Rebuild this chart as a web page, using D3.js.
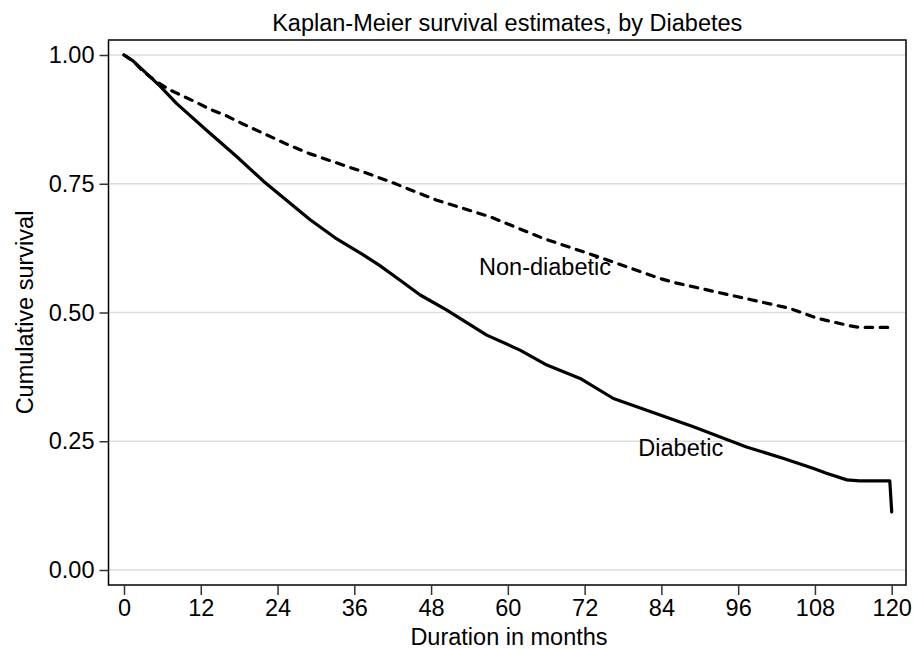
<!DOCTYPE html>
<html>
<head>
<meta charset="utf-8">
<script src="https://cdn.jsdelivr.net/npm/d3@7"></script>
<style>
  body { margin: 0; background: #fff; }
  text { font-family: "Liberation Sans", Arial, Helvetica, sans-serif; fill: #000; }
</style>
</head>
<body>
<svg id="canvas"></svg>
<script>
// values
let xTicks = [0, 12, 24, 36, 48, 60, 72, 84, 96, 108, 120]
let yTicks = [0, 0.25, 0.5, 0.75, 1]

let diabeticMonths = [0, 1.45, 3, 5.6, 8.2, 12.9, 17.6, 21.8, 25.4, 29.1, 33, 37.4, 40, 43.1, 46.3, 50.4, 56.7, 61.9, 66.1, 71.3, 76.5, 83.8, 89, 97.3, 103, 107.8, 109.8, 113, 115, 119.7, 120]
let diabeticSurv = [1.0, 0.988, 0.970, 0.940, 0.906, 0.854, 0.803, 0.755, 0.718, 0.680, 0.645, 0.612, 0.591, 0.563, 0.534, 0.505, 0.456, 0.427, 0.398, 0.372, 0.333, 0.301, 0.278, 0.239, 0.217, 0.197, 0.188, 0.175, 0.173, 0.173, 0.113]

let nonDiabeticMonths = [0, 1.45, 3, 5.1, 7.2, 10.8, 13.4, 16, 18.6, 22.3, 25.4, 29.1, 34.3, 37.4, 41.6, 48.9, 57.2, 65.5, 73.9, 83.8, 86.4, 95.8, 104.1, 108.3, 113.5, 115, 120]
let nonDiabeticSurv = [1.0, 0.988, 0.968, 0.948, 0.932, 0.911, 0.895, 0.882, 0.866, 0.845, 0.827, 0.808, 0.786, 0.773, 0.754, 0.718, 0.686, 0.644, 0.609, 0.566, 0.557, 0.531, 0.508, 0.489, 0.474, 0.471, 0.471]

let labels = [
    {text: 'Non-diabetic', month: 55.5, surv: 0.573},
    {text: 'Diabetic', month: 80.4, surv: 0.221}
]

const width = 913
const height = 649
const frame = {left: 108.5, right: 906, top: 40, bottom: 585}
const fontSize = 23.5

let svg = d3.select('#canvas')
    .attr('width', width)
    .attr('height', height)

let xScale = d3.scaleLinear().domain([0, 120]).range([124, 891.7])
let yScale = d3.scaleLinear().domain([0, 1]).range([570, 55])

// gridlines
svg.append('g')
    .selectAll('line')
    .data(yTicks)
    .enter()
    .append('line')
    .attr('x1', frame.left)
    .attr('x2', frame.right)
    .attr('y1', (d) => yScale(d))
    .attr('y2', (d) => yScale(d))
    .attr('stroke', '#dedede')
    .attr('stroke-width', 1.5)

// curves
let line = d3.line()
    .x((d) => xScale(d[0]))
    .y((d) => yScale(d[1]))

svg.append('path')
    .datum(d3.zip(diabeticMonths, diabeticSurv))
    .attr('d', line)
    .attr('fill', 'none')
    .attr('stroke', '#000')
    .attr('stroke-width', 3.2)
    .attr('stroke-linejoin', 'round')
    .attr('stroke-linecap', 'round')

svg.append('path')
    .datum(d3.zip(nonDiabeticMonths, nonDiabeticSurv))
    .attr('d', line)
    .attr('fill', 'none')
    .attr('stroke', '#000')
    .attr('stroke-width', 3.2)
    .attr('stroke-linecap', 'round')
    .attr('stroke-dasharray', '7.5,7.5')

// curve labels
svg.append('g')
    .selectAll('text')
    .data(labels)
    .enter()
    .append('text')
    .attr('x', (d) => xScale(d.month))
    .attr('y', (d) => yScale(d.surv))
    .attr('font-size', fontSize)
    .text((d) => d.text)

// frame
svg.append('rect')
    .attr('x', frame.left)
    .attr('y', frame.top)
    .attr('width', frame.right - frame.left)
    .attr('height', frame.bottom - frame.top)
    .attr('fill', 'none')
    .attr('stroke', '#000')
    .attr('stroke-width', 1.5)

// axes
let xAxis = d3.axisBottom(xScale)
    .tickValues(xTicks)
    .tickSize(10)
    .tickPadding(4)
    .tickSizeOuter(0)

let yAxis = d3.axisLeft(yScale)
    .tickValues(yTicks)
    .tickFormat(d3.format('.2f'))
    .tickSize(9)
    .tickPadding(5)
    .tickSizeOuter(0)

let gx = svg.append('g')
    .attr('transform', 'translate(0,' + frame.bottom + ')')
    .call(xAxis)
gx.select('.domain').remove()
gx.selectAll('line').attr('stroke', '#333').attr('stroke-width', 1.5)
gx.selectAll('text').attr('font-size', fontSize).attr('font-family', null)

let gy = svg.append('g')
    .attr('transform', 'translate(' + frame.left + ',0)')
    .call(yAxis)
gy.select('.domain').remove()
gy.selectAll('line').attr('stroke', '#333').attr('stroke-width', 1.5)
gy.selectAll('text').attr('font-size', fontSize).attr('font-family', null)

// titles
svg.append('text')
    .attr('x', (frame.left + frame.right) / 2)
    .attr('y', 31)
    .attr('text-anchor', 'middle')
    .attr('font-size', fontSize)
    .text('Kaplan-Meier survival estimates, by Diabetes')

svg.append('text')
    .attr('x', 509)
    .attr('y', 645)
    .attr('text-anchor', 'middle')
    .attr('font-size', fontSize)
    .text('Duration in months')

svg.append('text')
    .attr('transform', 'translate(33,' + (frame.top + frame.bottom) / 2 + ') rotate(-90)')
    .attr('text-anchor', 'middle')
    .attr('font-size', fontSize)
    .text('Cumulative survival')
</script>
</body>
</html>
